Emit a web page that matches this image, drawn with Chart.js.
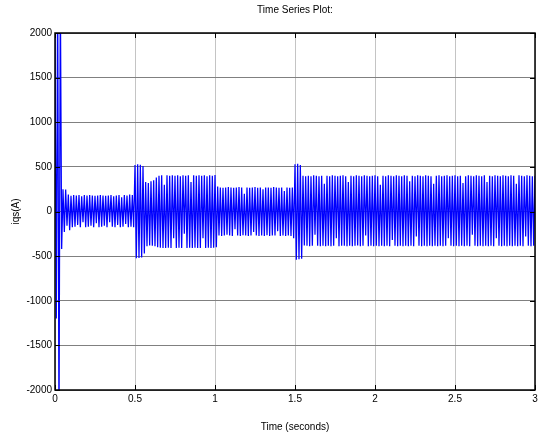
<!DOCTYPE html>
<html>
<head>
<meta charset="utf-8">
<script src="https://cdn.jsdelivr.net/npm/chart.js@4.4.1/dist/chart.umd.min.js"></script>
<style>
  html, body { margin: 0; padding: 0; background: #fff; }
  canvas { display: block; }
</style>
</head>
<body>
<canvas id="c" width="538" height="435"></canvas>
<script>
// Sample spacing (seconds) – half of a 60 Hz cycle, peaks and troughs
const sampleStep = 1 / 120;

// Startup transient (t = 0 … 0.042 s)
const startup = [1950, -1200, 2500, -2500, 2500, -420];

// 0.05 … 0.49 s
const seg1 = [
  250, -230, 245, -160, 190, -210, 175, -175, 185, -170,
  180, -150, 185, -175, 170, -120, 185, -175, 180, -170,
  185, -160, 180, -175, 175, -130, 180, -175, 185, -170,
  180, -160, 175, -175, 180, -120, 185, -170, 170, -175,
  180, -150, 185, -175, 160, -170, 185, -140, 180, -175,
  190, -170, 185, -175
];

// Step at 0.5 s
const seg2 = [520, -525, 530, -520, 525, -515, 510, -470];

// 0.567 … 0.99 s
const seg3 = [
  330, -390, 320, -380, 340, -385, 350, -390, 380, -400,
  400, -405, 405, -410, 300, -410, 405, -405, 400, -410,
  405, -300, 400, -410, 405, -405, 395, -410, 405, -250,
  400, -410, 405, -405, 330, -410, 405, -405, 400, -410,
  405, -410, 400, -300, 405, -410, 395, -405, 405, -410,
  400, -405
];

// 1.0 … 1.49 s
const seg4 = [
  410, -400, 280, -270, 270, -275, 265, -270, 270, -260,
  275, -270, 270, -275, 265, -200, 270, -270, 275, -275,
  270, -265, 200, -270, 270, -275, 265, -270, 270, -230,
  275, -270, 265, -275, 270, -270, 250, -275, 270, -265,
  270, -275, 265, -270, 275, -270, 270, -220, 265, -275,
  270, -270, 230, -275, 270, -270, 265, -275, 270, -300
];

// Step at 1.5 s
const seg5 = [530, -540, 535, -535, 520, -530, 400];

// 1.558 … 3.0 s
const seg6 = [
  -380, 395, -385, 400, -390, 395, -385, 405, -260, 400,
  -385, 395, -390, 400, -385, 310, -390, 400, -385, 395,
  -390, 405, -385, 400, -300, 395, -390, 400, -385, 405,
  -385, 395, -390, 330, -385, 400, -390, 395, -385, 405,
  -380, 400, -390, 395, -385, 405, -270, 400, -390, 395,
  -385, 400, -390, 405, -385, 395, -390, 300, -385, 400,
  -390, 395, -385, 405, -390, 400, -320, 395, -385, 405,
  -390, 400, -385, 395, -390, 405, -385, 400, -390, 340,
  -385, 400, -390, 395, -280, 405, -385, 400, -390, 395,
  -385, 405, -390, 400, -385, 395, -390, 310, -385, 400,
  -390, 405, -385, 395, -390, 400, -385, 405, -300, 395,
  -385, 400, -390, 405, -385, 395, -390, 400, -385, 320,
  -390, 395, -385, 405, -390, 400, -260, 395, -385, 405,
  -390, 400, -385, 395, -390, 405, -385, 330, -390, 400,
  -385, 395, -390, 405, -300, 400, -385, 395, -390, 405,
  -385, 400, -390, 395, -385, 405, -390, 400, -385, 310,
  -390, 405, -385, 400, -390, 395, -280, 405, -385, 400,
  -390, 395, -385, 400
];

const xTicks = [0, 0.5, 1, 1.5, 2, 2.5, 3];
const yTicks = [-2000, -1500, -1000, -500, 0, 500, 1000, 1500, 2000];

const values = [].concat(startup, seg1, seg2, seg3, seg4, seg5, seg6);
const points = values.map((v, i) => ({ x: i * sampleStep, y: v }));

const FONT = "'Liberation Sans Narrow', 'Arial Narrow', 'Liberation Sans', Arial, sans-serif";

const frameTicks = {
  id: 'frameTicks',
  afterDraw(chart) {
    const { ctx, chartArea: a, scales } = chart;
    ctx.save();
    ctx.strokeStyle = '#000';
    ctx.lineWidth = 1;
    ctx.beginPath();
    xTicks.forEach(t => {
      const px = Math.round(scales.x.getPixelForValue(t)) + 0.5;
      ctx.moveTo(px, a.bottom); ctx.lineTo(px, a.bottom - 5);
      ctx.moveTo(px, a.top); ctx.lineTo(px, a.top + 5);
    });
    yTicks.forEach(t => {
      const py = Math.round(scales.y.getPixelForValue(t)) + 0.5;
      ctx.moveTo(a.left, py); ctx.lineTo(a.left + 5, py);
      ctx.moveTo(a.right, py); ctx.lineTo(a.right - 5, py);
    });
    ctx.stroke();
    ctx.lineWidth = 1.5;
    ctx.strokeRect(a.left, a.top, a.right - a.left, a.bottom - a.top);
    ctx.restore();
  }
};

new Chart(document.getElementById('c'), {
  type: 'line',
  data: {
    datasets: [{
      data: points,
      borderColor: '#0000ff',
      borderWidth: 1.25,
      pointRadius: 0,
      tension: 0,
      fill: false
    }]
  },
  options: {
    responsive: false,
    animation: false,
    devicePixelRatio: 1,
    parsing: false,
    normalized: true,
    layout: { padding: { left: 6, right: 3, top: 0, bottom: 2 } },
    plugins: {
      legend: { display: false },
      tooltip: { enabled: false },
      title: { display: false }
    },
    scales: {
      x: {
        type: 'linear',
        min: 0, max: 3,
        afterBuildTicks(scale) { scale.ticks = xTicks.map(v => ({ value: v })); },
        afterFit(scale) { scale.height = 43; scale.paddingRight = 0; },
        ticks: {
          color: '#000',
          font: { family: FONT, size: 10 },
          padding: 3,
          maxRotation: 0,
          callback: v => String(v)
        },
        grid: { color: '#c4c4c4', lineWidth: 1, drawTicks: false },
        border: { display: false },
        title: {
          display: true,
          text: 'Time (seconds)',
          color: '#000',
          font: { family: FONT, size: 10 },
          padding: { top: 4, bottom: 0 }
        }
      },
      xTop: {
        type: 'linear',
        position: 'top',
        min: 0, max: 3,
        afterFit(scale) { scale.height = 33; scale.paddingRight = 0; scale.paddingLeft = 0; },
        ticks: { display: false },
        grid: { display: false, drawTicks: false },
        border: { display: false },
        title: {
          display: true,
          text: 'Time Series Plot:',
          color: '#000',
          font: { family: FONT, size: 10 },
          padding: { top: 4, bottom: 0 }
        }
      },
      y: {
        type: 'linear',
        min: -2000, max: 2000,
        afterBuildTicks(scale) { scale.ticks = yTicks.map(v => ({ value: v })); },
        afterFit(scale) { scale.width = 49; },
        ticks: {
          color: '#000',
          font: { family: FONT, size: 10 },
          padding: 3,
          callback: v => String(v)
        },
        grid: { color: '#808080', lineWidth: 1, drawTicks: false },
        border: { display: false },
        title: {
          display: true,
          text: 'iqs(A)',
          color: '#000',
          font: { family: FONT, size: 10 },
          padding: { top: 4, bottom: 0 }
        }
      }
    }
  },
  plugins: [frameTicks]
});
</script>
</body>
</html>
